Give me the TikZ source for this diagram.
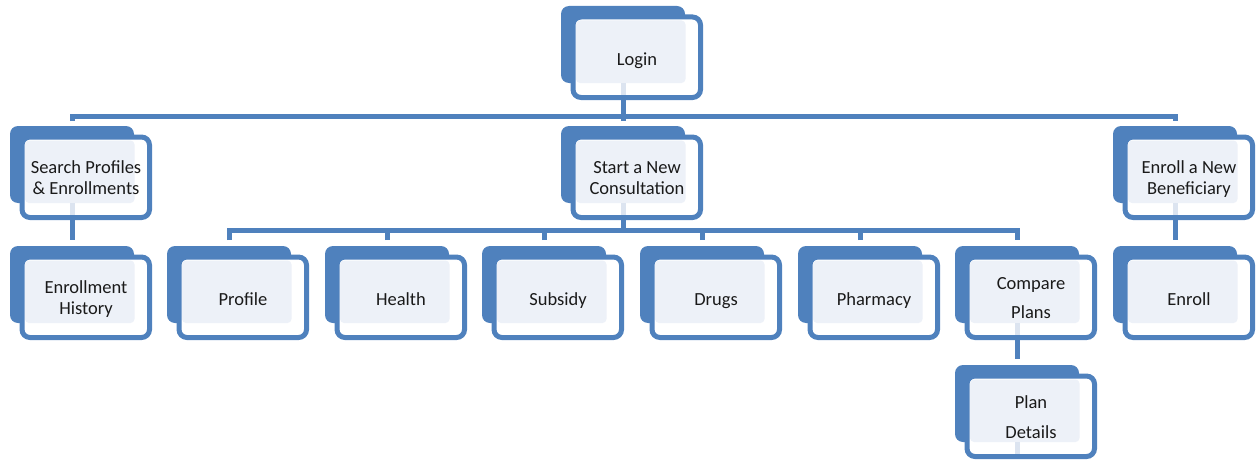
\documentclass[tikz,border=0pt]{standalone}
\usepackage{fontspec}
\setmainfont{Carlito}
\usetikzlibrary{backgrounds}
\definecolor{orgblue}{HTML}{4F81BD}
\definecolor{orglight}{HTML}{EDF1F8}
\definecolor{orgstub}{HTML}{DCE4F0}
\definecolor{orgtext}{HTML}{1A1A1A}
\tikzset{
  backbox/.style={fill=orgblue, rounded corners=8pt, minimum width=124pt, minimum height=77pt, inner sep=0pt, outer sep=0pt},
  frontbox/.style={draw=orgblue, line width=5pt, fill=white, rounded corners=8pt},
  lightbox/.style={fill=orglight, rounded corners=4pt},
  stubfill/.style={fill=orgstub},
  lbl/.style={text=orgtext, align=center, inner sep=0pt, font=\fontsize{18.5}{21}\selectfont,
    execute at begin node=\strut, execute at end node=\strut},
  conn/.style={draw=orgblue, line width=5pt},
}
% one chart box: name, left, top, label
\newcommand\orgbox[4]{%
  \node[backbox] (#1) at (#2+62,#3+38.5) {};
  \draw[frontbox] (#2+12,#3+11) rectangle (#2+139.5,#3+91.5);
  \fill[lightbox] (#2+15,#3+14.5) rectangle (#2+124.5,#3+77);
  \node[lbl] (#1-t) at (#2+76,#3+55) {#4};
}
% pale stub where an outgoing line leaves a box
\newcommand\orgstub[1]{%
  \fill[stubfill] ([xshift=-2.5pt]#1.south) rectangle ([xshift=2.5pt,yshift=-12pt]#1.south);
}
\begin{document}
\begin{tikzpicture}[x=1pt,y=-1pt]
\useasboundingbox (0,0) rectangle (1257,460);
\coordinate (bus1) at (0,116);
\coordinate (bus2) at (0,230);

\orgbox{login}{561}{6}{Login}

\orgbox{search}{10}{126}{Search Profiles\\\& Enrollments}
\orgbox{consult}{561}{126}{Start a New\\Consultation}
\orgbox{enrollnew}{1113}{126}{Enroll a New\\Beneficiary}

\orgbox{history}{10}{246}{Enrollment\\History}
\orgbox{profile}{167}{246}{Profile}
\orgbox{health}{325}{246}{Health}
\orgbox{subsidy}{482}{246}{Subsidy}
\orgbox{drugs}{640}{246}{Drugs}
\orgbox{pharmacy}{798}{246}{Pharmacy}
\orgbox{compare}{955}{246}{Compare\\[8pt]Plans}
\orgbox{enroll}{1113}{246}{Enroll}

\orgbox{plandetails}{955}{365}{Plan\\[9pt]Details}

\foreach \n in {login,search,consult,enrollnew,compare,plandetails}{\orgstub{\n}}

\begin{scope}[on background layer]
  % top level bus
  \draw[conn] (login.south) -- (login.south |- bus1);
  \draw[conn] ([yshift=5pt]search.north) |- (bus1 -| enrollnew.north) -- ([yshift=5pt]enrollnew.north);
  \draw[conn] ([yshift=5pt]consult.north) -- (consult.north |- bus1);
  % consultation steps
  \draw[conn] (consult.south) -- (consult.south |- bus2);
  \draw[conn] ([yshift=6pt]profile.north) |- (bus2 -| compare.north) -- ([yshift=6pt]compare.north);
  \foreach \n in {health,subsidy,drugs,pharmacy}
    \draw[conn] ([yshift=6pt]\n.north) -- (\n.north |- bus2);
  % single children
  \draw[conn] (search.south) -- ([yshift=6pt]history.north);
  \draw[conn] (enrollnew.south) -- ([yshift=6pt]enroll.north);
  \draw[conn] (compare.south) -- ([yshift=6pt]plandetails.north);
\end{scope}
\end{tikzpicture}
\end{document}
